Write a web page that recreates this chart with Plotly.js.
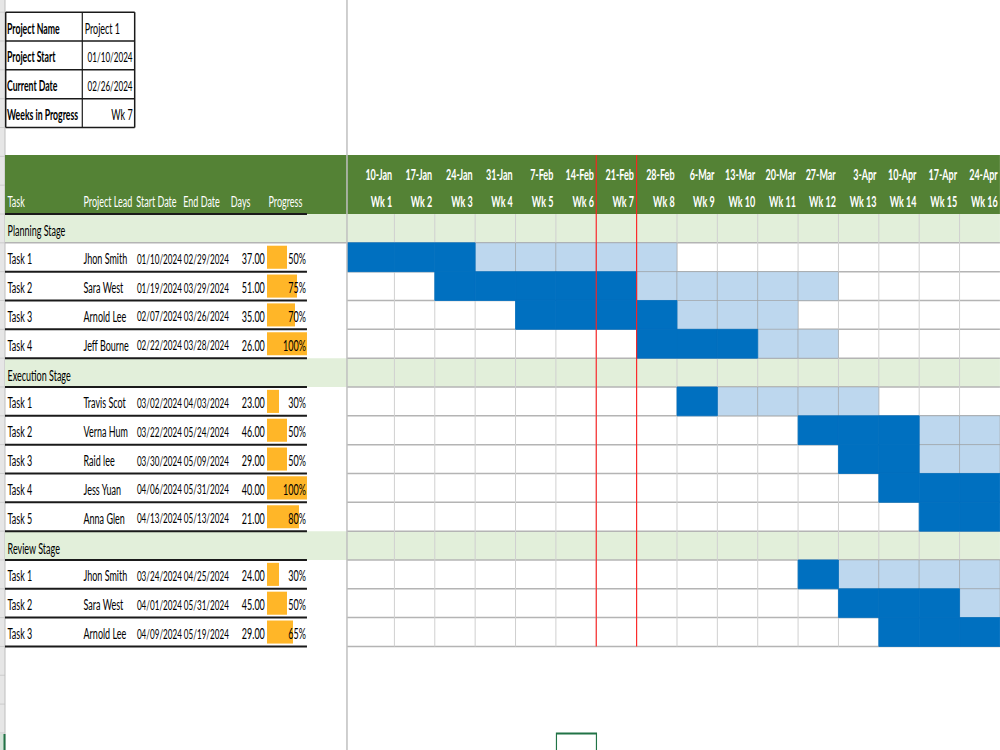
<!DOCTYPE html>
<html><head><meta charset="utf-8">
<script src="https://cdn.plot.ly/plotly-3.0.1.min.js"></script>
<style>html,body{margin:0;padding:0;background:#fff;overflow:hidden;width:1000px;height:750px}
#wrap{width:1000px;height:750px;overflow:hidden;position:relative}
#chart{position:absolute;left:0;top:0;transform-origin:0 0}</style>
</head><body><div id="wrap"><div id="chart"></div></div>
<script>
// ---------- data ----------
const infoLabels = ['Project Name', 'Project Start', 'Current Date', 'Weeks in Progress'];
const infoValues = ['Project 1', '01/10/2024', '02/26/2024', 'Wk 7'];
const headers = ['Task', 'Project Lead', 'Start Date', 'End Date', 'Days', 'Progress'];
const weekDates = ['2024-01-10','2024-01-17','2024-01-24','2024-01-31','2024-02-07','2024-02-14','2024-02-21','2024-02-28',
                   '2024-03-06','2024-03-13','2024-03-20','2024-03-27','2024-04-03','2024-04-10','2024-04-17','2024-04-24'];
const weekDateLabels = ['10-Jan','17-Jan','24-Jan','31-Jan','7-Feb','14-Feb','21-Feb','28-Feb',
                        '6-Mar','13-Mar','20-Mar','27-Mar','3-Apr','10-Apr','17-Apr','24-Apr'];
const weekLabels = ['Wk 1','Wk 2','Wk 3','Wk 4','Wk 5','Wk 6','Wk 7','Wk 8','Wk 9','Wk 10','Wk 11','Wk 12','Wk 13','Wk 14','Wk 15','Wk 16'];
const currentWeek = 7;
const stages = ['Planning Stage', 'Execution Stage', 'Review Stage'];
const taskStage = [0, 0, 0, 0, 1, 1, 1, 1, 1, 2, 2, 2];
const taskNames = ['Task 1','Task 2','Task 3','Task 4','Task 1','Task 2','Task 3','Task 4','Task 5','Task 1','Task 2','Task 3'];
const taskLeads = ['Jhon Smith','Sara West','Arnold Lee','Jeff Bourne','Travis Scot','Verna Hum','Raid lee','Jess Yuan','Anna Glen','Jhon Smith','Sara West','Arnold Lee'];
const startDates = ['01/10/2024','01/19/2024','02/07/2024','02/22/2024','03/02/2024','03/22/2024','03/30/2024','04/06/2024','04/13/2024','03/24/2024','04/01/2024','04/09/2024'];
const endDates = ['02/29/2024','03/29/2024','03/26/2024','03/28/2024','04/03/2024','05/24/2024','05/09/2024','05/31/2024','05/13/2024','04/25/2024','05/31/2024','05/19/2024'];
const days = [37, 51, 35, 26, 23, 46, 29, 40, 21, 24, 45, 29];
const progress = [0.50, 0.75, 0.70, 1.00, 0.30, 0.50, 0.50, 1.00, 0.80, 0.30, 0.50, 0.65];
const doneWeeks = [3, 5, 4, 3, 1, 3, 2, 3, 2, 1, 3, 3];

// ---------- layout constants ----------
const S = 0.58;                 // horizontal squeeze of the sheet (narrow spreadsheet look)
const W = 1000, H = 750, ROWH = 28.83, TOP = 214;
const PW = Math.round(W / S);
const GX0 = 347, GX1 = 1000, COLW = 40.37, NW = weekDates.length;
const xMin = NW + 0.5 - (GX1 - GX0) / COLW;
const HEAD_TOP = -2.05;
const FONT = 'Lato, Liberation Sans, Arial, sans-serif';
const FS = 15.5, FS_DATE = 14;
const C = {green:'#548235', band:'#E2EFDA', dark:'#0070C0', light:'#BDD7EE', orange:'#FFB628',
           grid:'#D0D0D0', hgrid:'#B4B4B4', black:'#1a1a1a', red:'#FF2020'};
const px = v => v / W;
const py = v => 1 - v / H;
const vw = w => w / S;          // keep vertical line widths visually right

function parseUS(s){ const [m,d,y] = s.split('/').map(Number); return Date.UTC(y, m-1, d); }
function parseISO(s){ const [y,m,d] = s.split('-').map(Number); return Date.UTC(y, m-1, d); }
const weekMs = weekDates.map(parseISO);

// ---------- rows ----------
const rows = [];
stages.forEach((s, si) => {
  rows.push({type:'stage', idx:si});
  taskStage.forEach((ts, ti) => { if (ts === si) rows.push({type:'task', idx:ti}); });
});
const NR = rows.length;

// ---------- gantt cells ----------
const dark = {y:[], base:[], x:[]}, light = {y:[], base:[], x:[]};
rows.forEach((r, ri) => {
  if (r.type !== 'task') return;
  const t = r.idx, s = parseUS(startDates[t]), e = parseUS(endDates[t]);
  let k = 0;
  weekMs.forEach((wm, wi) => {
    if (wm >= s && wm <= e) {
      const w = wi + 1;
      const x0 = (w === 1) ? xMin : w - 0.5;
      const tgt = (k < doneWeeks[t]) ? dark : light;
      tgt.y.push(ri + 0.5); tgt.base.push(x0); tgt.x.push(w + 0.5 - x0);
      k++;
    }
  });
});

const prog = {y:[], x:[]};
rows.forEach((r, ri) => { if (r.type === 'task') { prog.y.push(ri + 0.5); prog.x.push(progress[r.idx]); } });

const traces = [
  {type:'bar', orientation:'h', xaxis:'x', yaxis:'y', y:light.y, x:light.x, base:light.base, width:1,
   marker:{color:C.light, line:{color:'rgba(150,150,150,0.55)', width:1}}, hoverinfo:'skip', showlegend:false},
  {type:'bar', orientation:'h', xaxis:'x', yaxis:'y', y:dark.y, x:dark.x, base:dark.base, width:1,
   marker:{color:C.dark, line:{color:C.dark, width:1}}, hoverinfo:'skip', showlegend:false},
  {type:'bar', orientation:'h', xaxis:'x2', yaxis:'y', y:prog.y, x:prog.x, base:0, width:0.8,
   marker:{color:C.orange, line:{width:0}}, hoverinfo:'skip', showlegend:false}
];

// ---------- shapes ----------
const shapes = [];
const rect = (x0,x1,y0,y1,fill,xref,yref) => shapes.push({type:'rect', xref:xref||'paper', yref:yref||'y', x0, x1, y0, y1, fillcolor:fill, line:{width:0}, layer:'below'});
const line = (x0,x1,y0,y1,color,width,xref,yref,layer) => shapes.push({type:'line', xref:xref||'paper', yref:yref||'y', x0, x1, y0, y1, line:{color, width}, layer:layer||'below'});

// left row-header strip
rect(0, px(5), 0, 1, '#E6E6E6', 'paper', 'paper');
for (let r = -7; r <= 19; r++) line(0, px(5), r, r, '#C6C6C6', 1);
rect(0, px(5), 0, py(734), '#D3E3D8', 'paper', 'paper');
line(px(5), px(5), 0, 1, '#BDBDBD', vw(1), 'paper', 'paper');
// header band
rect(px(5), 1, HEAD_TOP, 0, C.green);
// stage bands
rows.forEach((r, ri) => { if (r.type === 'stage') rect(px(5), 1, ri, ri + 1, C.band); });
// gantt grid
for (let w = 1; w < NW; w++) line(w + 0.5, w + 0.5, 0, NR, C.grid, vw(1), 'x', 'y');
for (let r = 1; r <= NR; r++) line(px(GX0), 1, r, r, C.hgrid, 1.5);
// left table lines
line(px(5), px(307), 0, 0, C.black, 2);
rows.forEach((r, ri) => {
  if (r.type === 'stage' && r.idx === 0) line(px(5), px(GX0), ri + 1, ri + 1, C.hgrid, 1.5);
  else line(px(5), px(307), ri + 1, ri + 1, C.black, 2);
});
// frozen-pane divider
line(px(GX0), px(GX0), 0, 1, '#BFBFBF', vw(1.5), 'paper', 'paper', 'above');
// current week markers
line(currentWeek - 0.5, currentWeek - 0.5, HEAD_TOP, NR, C.red, vw(1.1), 'x', 'y', 'above');
line(currentWeek + 0.5, currentWeek + 0.5, HEAD_TOP, NR, C.red, vw(1.1), 'x', 'y', 'above');
// info table borders
const IX0 = px(5.7), IX1 = px(134.7), IXM = px(82.3);
for (let r = -7; r <= -3; r++) line(IX0, IX1, r, r, C.black, 1.5, 'paper', 'y', 'above');
line(IX0, IX0, -7, -3, C.black, vw(1.5), 'paper', 'y', 'above');
line(IX1, IX1, -7, -3, C.black, vw(1.5), 'paper', 'y', 'above');
line(IXM, IXM, -7, -3, C.black, vw(1.2), 'paper', 'y', 'above');
// selected cell (bottom)
shapes.push({type:'rect', xref:'paper', yref:'paper', x0:px(556.5), x1:px(596.5), y0:py(752), y1:py(733.5), fillcolor:'rgba(0,0,0,0)', line:{color:'#217346', width:2}, layer:'above'});
line(px(4.5), px(4.5), 0, py(734), '#217346', vw(2), 'paper', 'paper', 'above');

// ---------- annotations ----------
const ann = [];
const txt = (x, y, text, anchor, opts) => ann.push(Object.assign({xref:'paper', yref:'y', x, y, text, showarrow:false,
  xanchor:anchor || 'left', yanchor:'middle', yshift:-1, borderpad:0, font:{family:FONT, size:FS, color:'#000'}}, opts || {}));
const DATEF = {family:FONT, size:FS_DATE, color:'#000'};

infoLabels.forEach((l, i) => {
  txt(px(6.5), -7 + i + 0.5, '<b>' + l + '</b>', 'left', {font:{family:FONT, size:15, color:'#000'}});
  if (i === 0) txt(px(84), -7 + i + 0.5, infoValues[i], 'left');
  else txt(px(133.5), -7 + i + 0.5, infoValues[i], 'right', (i === 1 || i === 2) ? {font:DATEF} : {});
});
const headX = [7, 83, 136, 183, 230, 268];
const WHITE = {family:FONT, size:FS, color:'#FFFFFF'};
headers.forEach((h, i) => txt(px(headX[i]), -0.43, h, 'left', {font:WHITE, yshift:1}));
weekDateLabels.forEach((l, i) => {
  const w = i + 1;
  txt(w + 0.5, -1.42, '<b>' + l + '</b>', 'right', {xref:'x', xshift:-2 / S, font:WHITE});
  txt(w + 0.5, -0.43, '<b>' + weekLabels[i] + '</b>', 'right', {xref:'x', xshift:-2 / S, font:WHITE, yshift:1});
});
rows.forEach((r, ri) => {
  const yc = ri + 0.5;
  if (r.type === 'stage') { txt(px(7), yc, stages[r.idx], 'left', {yshift:-2}); return; }
  const t = r.idx;
  txt(px(7), yc, taskNames[t], 'left');
  txt(px(83), yc, taskLeads[t], 'left');
  txt(px(136.5), yc, startDates[t], 'left', {font:DATEF});
  txt(px(183.5), yc, endDates[t], 'left', {font:DATEF});
  txt(px(265.5), yc, days[t].toFixed(2), 'right');
  txt(px(306), yc, Math.round(progress[t] * 100) + '%', 'right');
});

const layout = {
  width: PW, height: H, margin:{l:0, r:0, t:0, b:0, pad:0},
  paper_bgcolor:'#FFFFFF', plot_bgcolor:'rgba(0,0,0,0)',
  font:{family:FONT, size:FS, color:'#000'},
  barmode:'overlay', showlegend:false,
  xaxis:{domain:[px(GX0), 1], range:[xMin, NW + 0.5], visible:false, fixedrange:true},
  xaxis2:{domain:[px(267), px(307)], range:[0, 1], anchor:'y', visible:false, fixedrange:true},
  yaxis:{domain:[0, 1], range:[(H - TOP) / ROWH, -TOP / ROWH], visible:false, fixedrange:true},
  shapes, annotations: ann
};
const el = document.getElementById('chart');
el.style.width = PW + 'px'; el.style.height = H + 'px';
el.style.transform = 'scaleX(' + S + ')';
Plotly.newPlot(el, traces, layout, {displayModeBar:false, staticPlot:true});
</script></body></html>
